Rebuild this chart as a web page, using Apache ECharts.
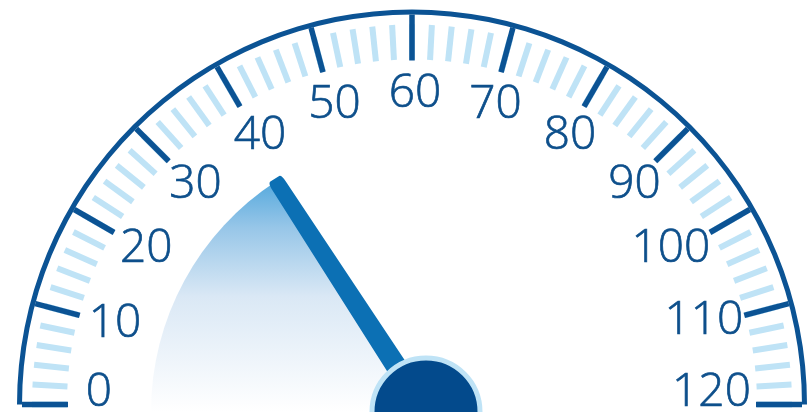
<!DOCTYPE html>
<html>
<head>
<meta charset="utf-8">
<script src="https://cdn.jsdelivr.net/npm/echarts@6/dist/echarts.min.js"></script>
<style>
  html, body { margin: 0; padding: 0; background: #fff; }
  #chart { width: 807px; height: 412px; }
</style>
</head>
<body>
<div id="chart"></div>
<script>
var scaleRange = [0, 120];
var majorStep = 10;
var minorPerMajor = 5;
var needleValue = [38];

var DARK_BLUE = "#0b5394";
var LIGHT_BLUE = "#bfe3f6";
var LABEL_BLUE = "#0d4f8b";

var SCALE_CENTER = [412, 404.5];
var LABEL_CENTER = [415, 404.5];
var NEEDLE_CENTER = [426, 412];

// small per-label nudges (padding of the rich token)
var labelPadding = {
  0: [0, 0, 24, 7],
  100: [0, 13, 0, 0],
  110: [0, 11, 7, 0],
  120: [0, 14, 24, 0],
};

var chart = echarts.init(document.getElementById("chart"));

var labelToken = function (padding, align) {
  return {
    width: 1,
    height: 1,
    align: align || "center",
    padding: padding || [0, 0, 0, 0],
    color: LABEL_BLUE,
    fontSize: 46,
    fontWeight: 300,
    fontFamily: "Open Sans",
    // light face is a touch too thin, thicken it slightly
    textBorderColor: LABEL_BLUE,
    textBorderWidth: 0.7,
  };
};

var labelRich = { n: labelToken() };
Object.keys(labelPadding).forEach(function (k) {
  labelRich["v" + k] = labelToken(labelPadding[k], k === "0" ? "right" : "center");
});

// every label is centred on its anchor point
var labelFormatter = function (v) {
  var name = labelPadding[v] ? "v" + v : "n";
  return "{" + name + "|" + v + "}";
};

var baseGauge = function (extra) {
  return Object.assign(
    {
      type: "gauge",
      startAngle: 180,
      endAngle: 0,
      min: scaleRange[0],
      max: scaleRange[1],
      splitNumber: (scaleRange[1] - scaleRange[0]) / majorStep,
      axisLine: { show: false },
      splitLine: { show: false },
      axisTick: { show: false },
      axisLabel: { show: false },
      pointer: { show: false },
      anchor: { show: false },
      title: { show: false },
      detail: { show: false },
      data: [{ value: needleValue[0] }],
    },
    extra
  );
};

var option = {
  backgroundColor: "#fff",
  animation: false,
  series: [
    // minor ticks
    baseGauge({
      center: SCALE_CENTER,
      radius: 395,
      axisLine: { show: false, lineStyle: { width: 5 } },
      axisTick: {
        show: true,
        splitNumber: minorPerMajor,
        length: 35,
        distance: 10,
        lineStyle: { color: LIGHT_BLUE, width: 6 },
      },
    }),
    // labels
    baseGauge({
      center: LABEL_CENTER,
      radius: 395,
      axisLine: { show: false, lineStyle: { width: 5, color: [[1, LABEL_BLUE]] } },
      splitLine: { show: false, length: 46, distance: 0 },
      axisLabel: {
        show: true,
        distance: 38,
        color: LABEL_BLUE,
        fontSize: 46,
        fontFamily: "Open Sans",
        formatter: labelFormatter,
        rich: labelRich,
      },
    }),
    // outer arc + major ticks, drawn over the minor ones
    baseGauge({
      center: SCALE_CENTER,
      radius: 395,
      axisLine: {
        show: true,
        lineStyle: { width: 5, color: [[1, DARK_BLUE]] },
      },
      splitLine: {
        show: true,
        length: 46,
        distance: 0,
        lineStyle: { color: DARK_BLUE, width: 5.5 },
      },
    }),
    // shaded sector up to the value
    baseGauge({
      center: NEEDLE_CENTER,
      radius: 275,
      progress: {
        show: true,
        width: 275,
        itemStyle: {
          color: new echarts.graphic.LinearGradient(0, 0, 0, 1, [
            { offset: 0, color: "#55a9dd" },
            { offset: 0.2, color: "#97c6e8" },
            { offset: 0.5, color: "#dae8f5" },
            { offset: 1, color: "#ffffff" },
          ]),
        },
      },
    }),
    // needle, over the sector
    baseGauge({
      z: 4,
      center: NEEDLE_CENTER,
      radius: 275,
      pointer: {
        show: true,
        icon: "path://M6,0 L16,0 Q19,0 19,3 L22,100 L0,100 L3,3 Q3,0 6,0 Z",
        length: 278,
        width: 22,
        itemStyle: { color: "#0c70b4" },
      },
    }),
    // hub on top of everything
    baseGauge({
      z: 5,
      center: NEEDLE_CENTER,
      radius: 275,
      anchor: {
        show: true,
        showAbove: true,
        size: 108,
        itemStyle: {
          color: "#034a8c",
          borderColor: LIGHT_BLUE,
          borderWidth: 5,
        },
      },
    }),
  ],
};

chart.setOption(option);
</script>
</body>
</html>
